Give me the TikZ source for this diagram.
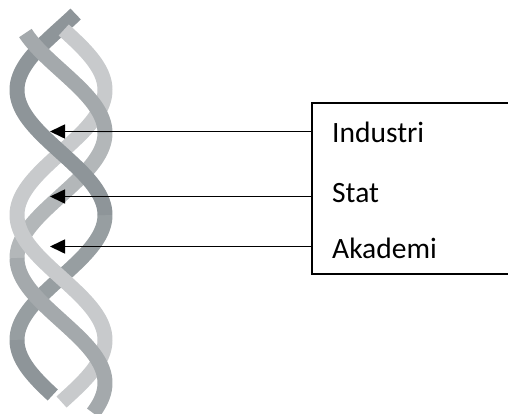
\documentclass[tikz,border=0pt]{standalone}
\usepackage{fontspec}
\setmainfont{Carlito}
\usetikzlibrary{arrows.meta}

\definecolor{ribdark}{HTML}{8E9599}
\definecolor{ribdarkback}{HTML}{979EA1}
\definecolor{ribmid}{HTML}{A4A9AC}
\definecolor{ribmidback}{HTML}{B3B7B9}
\definecolor{riblight}{HTML}{C8CACC}

% centre lines of the three helix strands (x as a function of the height #1);
% one full turn takes 250 units of height, i.e. 1.44 degrees per unit
\newcommand\strandA[1]{61+44*cos(1.44*(#1-90))}
\newcommand\strandB[1]{61-44*cos(1.44*(#1-90))}
\newcommand\strandC[1]{61-44*cos(1.44*(#1-8))}

% one ribbon piece: colour, strand, from height, to height
\newcommand\ribbonpiece[4]{%
  \draw[ribbon, #1] plot[domain=#3:#4, samples=60, variable=\yy] ({#2{\yy}}, {\yy});}

\begin{document}
\begin{tikzpicture}[
  x=1pt, y=-1pt,
  ribbon/.style={line width=15pt, line cap=butt, line join=round},
  pointer/.style={line width=1.6pt, -{Triangle[length=15pt, width=14pt]}},
  listbox/.style={draw, line width=1.6pt, rectangle, minimum width=215pt,
    minimum height=171pt, anchor=north west, inner sep=0pt},
  entry/.style={anchor=base west, inner sep=0pt,
    font=\fontsize{29.5}{34}\selectfont},
]
\useasboundingbox (0,0) rectangle (508,413);

% --- double helix: back halves first, front halves over them ---
\ribbonpiece{ribdark}{\strandB}{14}{90}
\ribbonpiece{ribdarkback}{\strandB}{215}{340}
\ribbonpiece{riblight}{\strandA}{90}{215}
\ribbonpiece{riblight}{\strandA}{340}{402}
\ribbonpiece{ribmidback}{\strandC}{133}{258}

\ribbonpiece{riblight}{\strandA}{30}{90}
\ribbonpiece{riblight}{\strandA}{215}{340}
\ribbonpiece{ribmid}{\strandC}{33}{133}
\ribbonpiece{ribmid}{\strandC}{258}{413}
\ribbonpiece{ribdark}{\strandB}{90}{215}
\ribbonpiece{ribdark}{\strandB}{340}{395}

% --- list box (open to the right) ---
\node[listbox] (box) at (311,102) {};
\node[entry] (ind) at (332,142) {Industri};
\node[entry] (sta) at (332,202) {Stat};
\node[entry] (aka) at (332,258) {Akademi};

% --- pointers into the helix ---
\coordinate (p1) at (50,131.5);
\coordinate (p2) at (50,196.5);
\coordinate (p3) at (50,246.5);
\draw[pointer] (box.west |- p1) -- (p1);
\draw[pointer] (box.west |- p2) -- (p2);
\draw[pointer] (box.west |- p3) -- (p3);
\end{tikzpicture}
\end{document}
